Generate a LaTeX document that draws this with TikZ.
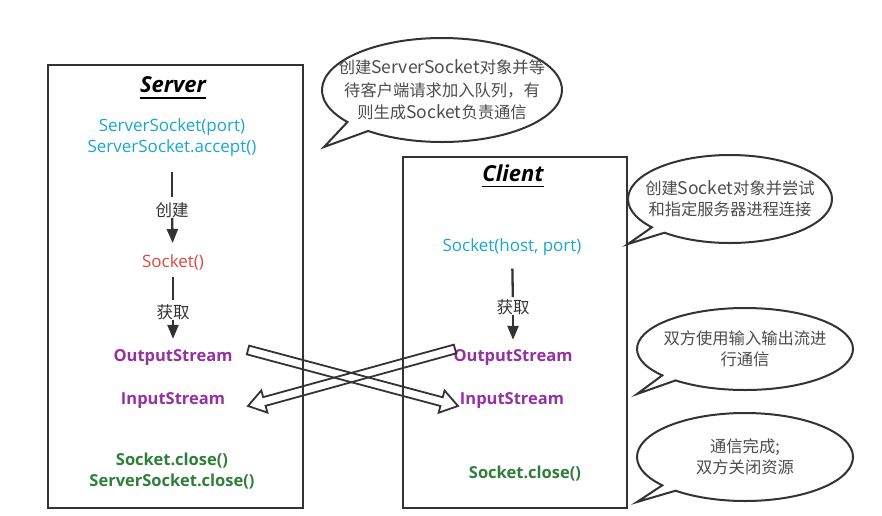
\documentclass[tikz,border=0pt]{standalone}
\usepackage{fontspec}
\setmainfont{Open Sans}
\newfontfamily\cjk{Noto Sans CJK SC}
\usetikzlibrary{arrows.meta,calc}
\definecolor{cyanT}{HTML}{1AA7CF}
\definecolor{redT}{HTML}{E2473B}
\definecolor{purT}{HTML}{9431A4}
\definecolor{grnT}{HTML}{2F7F3B}
\definecolor{lineC}{HTML}{333333}
\definecolor{bubT}{HTML}{4D4D4D}
\newcommand{\hollowArrow}[2]{%
  \coordinate (hb) at ($(#2)!17pt!(#1)$);
  \draw[hollow]
   ($(#1)!4.5pt!90:(#2)$) -- ($(hb)!4.5pt!-90:(#1)$) -- ($(hb)!11.5pt!-90:(#1)$) -- (#2)
   -- ($(hb)!11.5pt!90:(#1)$) -- ($(hb)!4.5pt!90:(#1)$) -- ($(#1)!4.5pt!-90:(#2)$) -- cycle;}
\newcommand{\lat}[1]{{\fontsize{17.5}{22}\selectfont #1}}
\begin{document}
\begin{tikzpicture}[x=1pt,y=-1pt,
  box/.style={draw=lineC, line width=2.2pt},
  title/.style={font=\fontsize{22}{26}\selectfont\bfseries\itshape, inner sep=0pt, text=black},
  ulin/.style={draw=black, line width=1.6pt},
  base/.style={inner sep=0pt, align=center, font=\fontsize{17}{21}\selectfont},
  ctext/.style={base, text=cyanT},
  rtext/.style={base, text=redT},
  ptext/.style={base, text=purT, font=\fontsize{16.5}{21}\selectfont\bfseries},
  gtext/.style={base, text=grnT, font=\fontsize{16.5}{21}\selectfont\bfseries},
  lbl/.style={inner sep=0pt, text=lineC, font=\fontsize{16.5}{20}\selectfont\cjk},
  seg/.style={draw=lineC, line width=2.3pt},
  flow/.style={seg, -{Triangle[length=14pt,width=11pt]}},
  hollow/.style={draw=lineC, line width=1.8pt, line join=miter},
  bub/.style={draw=lineC, line width=2pt, fill=white},
  btext/.style={inner sep=0pt, align=center, text=bubT, font=\fontsize{16.3}{21}\selectfont\cjk},
]
\fill[white] (0,0) rectangle (882,515);
\useasboundingbox (0,0) rectangle (882,515);

% boxes
\draw[box] (48,65) rectangle (303,508);
\draw[box] (403,157) rectangle (627,508);

% server column
\node[title] (srvTitle) at (173,85) {Server};
\draw[ulin] ([yshift=-5pt]srvTitle.south west) -- ([yshift=-5pt]srvTitle.south east);
\node[ctext] (srvA) at (172,138) {ServerSocket(port)\\ServerSocket.accept()};
\node[lbl] (srvL1) at (172,210) {创建};
\node[rtext] (srvSock) at (173,262) {Socket()};
\node[lbl] (srvL2) at (173,312) {获取};
\node[ptext] (srvOut) at (173,357) {OutputStream};
\node[ptext] (srvIn) at (173,400) {InputStream};
\node[gtext] (srvClose) at (172,471) {Socket.close()\\ServerSocket.close()};

\draw[seg, shorten <=15pt, shorten >=5pt] (srvA) -- (srvL1);
\draw[flow, shorten >=11pt] (srvL1) -- (srvSock);
\draw[seg, shorten <=7pt, shorten >=4pt] (srvSock) -- (srvL2);
\draw[flow, shorten >=10pt] (srvL2) -- (srvOut);

% client column
\node[title] (cliTitle) at (513,173) {Client};
\draw[ulin] ([yshift=-5pt]cliTitle.south west) -- ([yshift=-5pt]cliTitle.south east);
\node[ctext] (cliSock) at (512,247) {Socket(host, port)};
\node[lbl] (cliL) at (513,307) {获取};
\node[ptext] (cliOut) at (513,357) {OutputStream};
\node[ptext] (cliIn) at (512,400) {InputStream};
\node[gtext] (cliClose) at (525,474) {Socket.close()};

\draw[seg, shorten <=13pt, shorten >=2pt] (cliSock) -- (cliL);
\draw[flow, shorten >=9pt] (cliL) -- (cliOut);

% crossing hollow arrows
\coordinate (a1s) at (248,350);
\coordinate (a1e) at (458,406);
\coordinate (a2s) at (455,349);
\coordinate (a2e) at (248,406);
\hollowArrow{a1s}{a1e}
\hollowArrow{a2s}{a2e}

% speech bubbles
\draw[bub] (442,90) ++(142:120 and 52) arc[start angle=142, end angle=488, x radius=120, y radius=52] -- (324,147) -- cycle;
\node[btext, font=\fontsize{16.3}{22.5}\selectfont\cjk] (b1) at (442,90)
  {创建\lat{ServerSocket}对象并等\\待客户端请求加入队列，有\\则生成\lat{Socket}负责通信};

\draw[bub] (730,199) ++(140:102 and 44) arc[start angle=140, end angle=490, x radius=102, y radius=44] -- (628,244) -- cycle;
\node[btext] (b2) at (730,199)
  {创建\lat{Socket}对象并尝试\\和指定服务器进程连接};

\draw[bub] (745,349) ++(140:108 and 41) arc[start angle=140, end angle=490, x radius=108, y radius=41] -- (637,394) -- cycle;
\node[btext] (b3) at (745,349)
  {双方使用输入输出流进\\行通信};

\draw[bub] (745,457) ++(140:108 and 44) arc[start angle=140, end angle=490, x radius=108, y radius=44] -- (637,502) -- cycle;
\node[btext] (b4) at (745,457)
  {通信完成;\\双方关闭资源};
\end{tikzpicture}
\end{document}
